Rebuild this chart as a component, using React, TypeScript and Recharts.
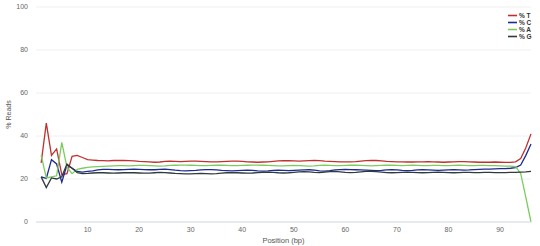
import React from 'react';
import { LineChart, Line, XAxis, YAxis, CartesianGrid, Legend } from 'recharts';

const positions = [
  1, 2, 3, 4, 5, 6, 7, 8, 9, 10, 11, 12, 13, 14, 15, 16, 17, 18, 19, 20,
  21, 22, 23, 24, 25, 26, 27, 28, 29, 30, 31, 32, 33, 34, 35, 36, 37, 38, 39, 40,
  41, 42, 43, 44, 45, 46, 47, 48, 49, 50, 51, 52, 53, 54, 55, 56, 57, 58, 59, 60,
  61, 62, 63, 64, 65, 66, 67, 68, 69, 70, 71, 72, 73, 74, 75, 76, 77, 78, 79, 80,
  81, 82, 83, 84, 85, 86, 87, 88, 89, 90, 91, 92, 93, 94, 95, 96,
];

const pctT = [
  27.5, 46, 31, 34, 22, 22.5, 30.5, 31, 30, 29,
  28.8, 28.6, 28.5, 28.4, 28.6, 28.7, 28.6, 28.5, 28.4, 28.2,
  28.1, 28.0, 27.8, 27.9, 28.2, 28.3, 28.2, 28.1, 28.2, 28.3,
  28.3, 28.2, 28.1, 28.0, 28.0, 28.1, 28.2, 28.3, 28.3, 28.2,
  28.0, 27.9, 27.8, 27.9, 28.0, 28.2, 28.4, 28.5, 28.5, 28.4,
  28.3, 28.4, 28.5, 28.6, 28.5, 28.3, 28.2, 28.1, 28.0, 28.0,
  28.0, 28.1, 28.3, 28.5, 28.7, 28.6, 28.4, 28.2, 28.1, 28.0,
  28.0, 27.9, 27.9, 28.0, 28.0, 28.1, 28.0, 27.9, 27.8, 27.9,
  28.0, 28.1, 28.1, 28.0, 27.9, 27.8, 27.8, 27.8, 27.9, 27.8,
  27.7, 27.7, 28.0, 29.5, 34.5, 41,
];

const pctC = [
  21, 20.3, 29, 27, 18.5, 26.5, 25, 23.5, 23.2, 23.5,
  23.8, 24.2, 24.5, 24.5, 24.4, 24.3, 24.4, 24.5, 24.6, 24.5,
  24.4, 24.3, 24.3, 24.5, 24.6, 24.4, 24.1, 23.9, 23.8, 23.9,
  24.0, 24.2, 24.4, 24.4, 24.2, 24.0, 23.9, 23.8, 23.9, 24.0,
  24.1, 24.0, 23.8, 23.7, 23.8, 24.0, 24.1, 24.0, 23.9, 24.0,
  24.1, 24.2, 24.3, 24.1, 23.8, 23.7, 23.9, 24.2, 24.4, 24.5,
  24.4, 24.3, 24.2, 24.1, 24.0, 23.9, 24.0, 24.2, 24.3, 24.2,
  24.0, 23.9, 24.0, 24.2, 24.3, 24.2, 24.1, 24.0, 24.1, 24.2,
  24.3, 24.2, 24.1, 24.2, 24.4, 24.5, 24.6, 24.6, 24.7, 24.8,
  24.8, 25.0, 25.3, 26.5, 31, 36.3,
];

const pctA = [
  31, 20.5, 21, 21.5, 37, 25.5, 22.5, 24.5, 25, 25.4,
  25.6, 25.8, 25.9, 26.0, 26.1, 26.2, 26.2, 26.1, 26.2, 26.3,
  26.3, 26.2, 26.1, 26.0, 26.1, 26.3, 26.4, 26.5, 26.5, 26.4,
  26.3, 26.2, 26.2, 26.3, 26.4, 26.4, 26.3, 26.2, 26.2, 26.3,
  26.4, 26.5, 26.5, 26.4, 26.3, 26.2, 26.1, 26.1, 26.2, 26.3,
  26.2, 26.1, 26.0, 26.1, 26.3, 26.4, 26.3, 26.2, 26.2, 26.3,
  26.4, 26.4, 26.3, 26.2, 26.1, 26.2, 26.3, 26.4, 26.4, 26.3,
  26.2, 26.3, 26.4, 26.3, 26.2, 26.2, 26.3, 26.3, 26.2, 26.2,
  26.3, 26.4, 26.3, 26.2, 26.2, 26.3, 26.3, 26.2, 26.2, 26.1,
  26.0, 26.0, 25.8, 22.6, 11.5, 0,
];

const pctG = [
  21, 16, 20.5, 20, 21, 27, 25, 23, 22.5, 22.6,
  22.8, 22.9, 22.9, 22.8, 22.7, 22.8, 22.9, 23.0, 22.9, 22.8,
  22.7, 22.7, 22.9, 23.1, 23.0, 22.8, 22.6, 22.5, 22.4, 22.4,
  22.5, 22.6, 22.5, 22.4, 22.5, 22.7, 22.9, 23.0, 22.9, 22.8,
  22.7, 22.8, 23.0, 23.1, 23.2, 23.1, 22.9, 22.8, 22.9, 23.1,
  23.3, 23.4, 23.3, 23.1, 23.0, 23.2, 23.4, 23.5, 23.3, 23.1,
  23.0, 23.1, 23.3, 23.5, 23.6, 23.4, 23.2, 23.0, 22.9, 23.0,
  23.1, 23.2, 23.1, 23.0, 22.9, 23.0, 23.1, 23.2, 23.1, 23.0,
  22.9, 23.0, 23.1, 23.1, 23.0, 23.0, 23.1, 23.1, 23.0, 23.0,
  23.0, 23.1, 23.1, 23.2, 23.3, 23.5,
];

const xTicks = [10, 20, 30, 40, 50, 60, 70, 80, 90];
const yTicks = [0, 20, 40, 60, 80, 100];

const seriesNames = ['% T', '% C', '% A', '% G'];
const seriesKeys = ['T', 'C', 'A', 'G'];
const seriesColors = ['#c0302f', '#1c2a92', '#7ccb5e', '#2f3b3b'];

const data = positions.map((p, i) => ({
  pos: p,
  T: pctT[i],
  C: pctC[i],
  A: pctA[i],
  G: pctG[i],
}));

const FONT = '"Lucida Grande", "Lucida Sans Unicode", Arial, Helvetica, sans-serif';

const renderLegend = () => (
  <div style={{ fontFamily: FONT, fontSize: 6.5, fontWeight: 700, color: '#333' }}>
    {seriesNames.map((name, i) => (
      <div key={name} style={{ display: 'flex', alignItems: 'center', height: 7, lineHeight: '7px' }}>
        <svg width={9} height={7} style={{ marginRight: 2, display: 'block' }}>
          <line x1={0} y1={3.5} x2={9} y2={3.5} stroke={seriesColors[i]} strokeWidth={1.6} />
        </svg>
        <span>{name}</span>
      </div>
    ))}
  </div>
);

export default function App() {
  return (
    <div style={{ position: 'absolute', left: 0, top: 0, width: 540, height: 246, background: '#fff' }}>
      <LineChart width={540} height={246} data={data} margin={{ top: 7, right: 9, bottom: 0, left: 0 }}>
        <CartesianGrid vertical={false} stroke="#ececec" strokeWidth={0.8} />
        <XAxis
          dataKey="pos"
          type="number"
          domain={[0, 96]}
          ticks={xTicks}
          height={24}
          tickLine={false}
          tickSize={3}
          axisLine={{ stroke: '#d8dde6', strokeWidth: 1 }}
          tick={{ fontFamily: FONT, fontSize: 7, fill: '#666' }}
          label={{
            value: 'Position (bp)',
            position: 'insideBottom',
            offset: 3,
            style: { fontFamily: FONT, fontSize: 7.5, fill: '#555' },
          }}
        />
        <YAxis
          domain={[0, 100]}
          ticks={yTicks}
          width={36}
          axisLine={false}
          tickLine={false}
          tick={{ fontFamily: FONT, fontSize: 7, fill: '#666' }}
          label={{
            value: '% Reads',
            angle: -90,
            position: 'insideLeft',
            offset: 9,
            textAnchor: 'middle',
            style: { fontFamily: FONT, fontSize: 7, fill: '#555', textAnchor: 'middle' },
          }}
        />
        <Legend
          layout="horizontal"
          verticalAlign="middle"
          align="center"
          content={renderLegend}
          wrapperStyle={{ top: 12, left: 508, width: 30, height: 30 }}
        />
        {seriesKeys.map((k, i) => (
          <Line
            key={k}
            type="linear"
            dataKey={k}
            name={seriesNames[i]}
            stroke={seriesColors[i]}
            strokeWidth={1.3}
            dot={false}
            activeDot={false}
            isAnimationActive={false}
          />
        ))}
      </LineChart>
    </div>
  );
}
